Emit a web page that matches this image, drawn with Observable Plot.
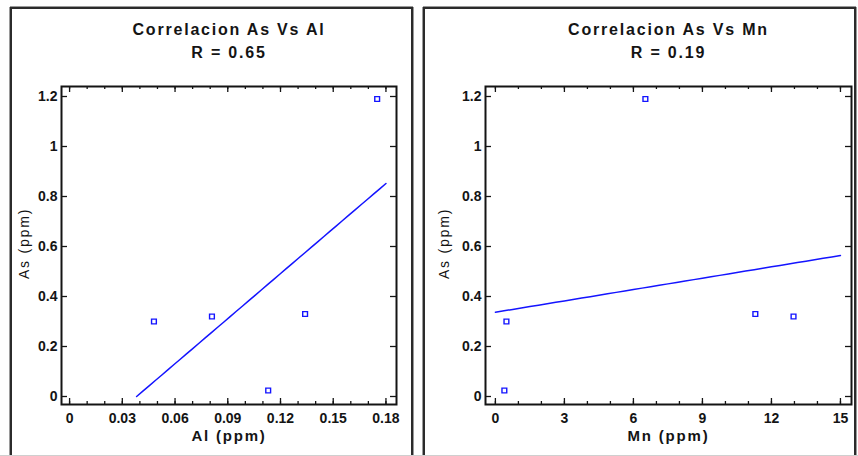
<!DOCTYPE html>
<html>
<head>
<meta charset="utf-8">
<script src="https://cdn.jsdelivr.net/npm/d3@7"></script>
<script src="https://cdn.jsdelivr.net/npm/@observablehq/plot@0.6"></script>
<style>
  html, body { margin: 0; padding: 0; background: #fff; }
  #page { position: relative; width: 858px; height: 456px; overflow: hidden; background: #fff; font-family: "Liberation Sans", Arial, sans-serif; }
  .panel { position: absolute; top: 0; }
  .frame { position: absolute; box-sizing: border-box; border: 2px solid #2b2b2b; border-bottom: none; box-shadow: 1px 0 0 #9a9a9a, -1px 0 0 #9a9a9a, 0 -1px 0 #9a9a9a; pointer-events: none; }
  .baseline { position: absolute; left: 0; width: 858px; top: 455px; height: 1px; background: #cfcfcf; }
</style>
</head>
<body>
<div id="page">
  <div class="panel" id="left" style="left:0px"></div>
  <div class="panel" id="right" style="left:420px"></div>
  <div class="frame" style="left:10px; top:7px; width:403px; height:460px"></div>
  <div class="frame" style="left:423px; top:7px; width:433px; height:460px"></div>
  <div class="baseline"></div>
</div>
<script>
// ---- data ----
const asValues = [0.30, 0.32, 0.024, 0.33, 1.19];
const alValues = [0.048, 0.081, 0.113, 0.134, 0.175];
const mnValues = [0.48, 12.96, 0.39, 11.3, 6.52];

const alTicks = [0, 0.03, 0.06, 0.09, 0.12, 0.15, 0.18];
const alTickLabels = ["0", "0.03", "0.06", "0.09", "0.12", "0.15", "0.18"];
const mnTicks = [0, 3, 6, 9, 12, 15];
const mnTickLabels = ["0", "3", "6", "9", "12", "15"];
const asTicks = [0, 0.2, 0.4, 0.6, 0.8, 1, 1.2];
const asTickLabels = ["0", "0.2", "0.4", "0.6", "0.8", "1", "1.2"];

const titlesLeft = ["Correlacion As Vs Al", "R = 0.65"];
const titlesRight = ["Correlacion As Vs Mn", "R = 0.19"];
const xLabelLeft = "Al (ppm)";
const xLabelRight = "Mn (ppm)";
const yLabel = "As (ppm)";

const blue = "#1414ff";
const ink = "#141414";

function fit(xs, ys) {
  const mx = d3.mean(xs), my = d3.mean(ys);
  let sxy = 0, sxx = 0;
  xs.forEach((x, i) => { sxy += (x - mx) * (ys[i] - my); sxx += (x - mx) ** 2; });
  const b = sxy / sxx, a = my - b * mx;
  return {a, b};
}

function panel({xs, ys, xDomain, xTicks, xTickLabels, xMinorStep, titles, xLabel, width, marginLeft, marginRight}) {
  const height = 456, marginTop = 86, marginBottom = 52;
  const fh = height - marginTop - marginBottom;
  const fw = width - marginLeft - marginRight;
  const pts = xs.map((x, i) => ({x, y: ys[i]}));
  const {a, b} = fit(xs, ys);
  const x0 = Math.max(xTicks[0], (asTicks[0] - a) / b);
  const x1 = xTicks[xTicks.length - 1];
  const line = d3.range(0, 41).map(i => { const x = x0 + (x1 - x0) * i / 40; return {x, y: a + b * x}; });
  const xMinor = d3.range(xTicks[0], x1 + xMinorStep / 2, xMinorStep).map(v => +v.toFixed(6));
  const fmtX = d => xTickLabels[xTicks.indexOf(d)] ?? "";
  const fmtY = d => asTickLabels[asTicks.indexOf(d)] ?? "";
  const tickStyle = {stroke: ink, strokeWidth: 1.3};
  const svg = Plot.plot({
    width, height, marginLeft, marginRight, marginTop, marginBottom,
    style: {background: "transparent", fontFamily: "'Liberation Sans', Arial, sans-serif", color: ink},
    x: {domain: xDomain, axis: null},
    y: {domain: [-0.032, 1.24], axis: null},
    marks: [
      // minor x ticks (bottom and top, inward)
      Plot.tickX(xMinor, {x: d => d, insetTop: fh - 3, ...tickStyle}),
      Plot.tickX(xMinor, {x: d => d, insetBottom: fh - 3, ...tickStyle}),
      // major x ticks
      Plot.tickX(xTicks, {x: d => d, insetTop: fh - 6, ...tickStyle}),
      Plot.tickX(xTicks, {x: d => d, insetBottom: fh - 6, ...tickStyle}),
      // major y ticks (left and right, inward)
      Plot.tickY(asTicks, {y: d => d, insetRight: fw - 6, ...tickStyle}),
      Plot.tickY(asTicks, {y: d => d, insetLeft: fw - 6, ...tickStyle}),
      Plot.frame({stroke: ink, strokeWidth: 2}),
      Plot.axisX(xTicks, {anchor: "bottom", tickSize: 0, tickPadding: 9, tickFormat: fmtX, fontSize: 14, fontWeight: "bold", fill: ink, label: null}),
      Plot.axisY(asTicks, {anchor: "left", tickSize: 0, tickPadding: 4, tickFormat: fmtY, fontSize: 14, fontWeight: "bold", fill: ink, label: null}),
      Plot.line(line, {x: "x", y: "y", stroke: blue, strokeWidth: 1.5}),
      Plot.dot(pts, {x: "x", y: "y", symbol: "square", r: 2.7, stroke: blue, strokeWidth: 1.4, fill: "none"}),
      Plot.text([titles[0]], {frameAnchor: "top", dy: -63, fontSize: 16, fontWeight: "bold", fill: ink}),
      Plot.text([titles[1]], {frameAnchor: "top", dy: -40, fontSize: 16, fontWeight: "bold", fill: ink}),
      Plot.text([xLabel], {frameAnchor: "bottom", dy: 36, fontSize: 15, fontWeight: "bold", fill: ink}),
      Plot.text([yLabel], {frameAnchor: "left", textAnchor: "middle", dx: -(marginLeft - 24), dy: -2, rotate: -90, fontSize: 14, fill: ink})
    ]
  });
  // letter spacing of the titles and axis labels, in mark order
  const spacing = ["1.8px", "1.8px", "1.8px", "1.8px"];
  d3.select(svg).selectAll('g[aria-label="text"]').each(function (_, i) {
    d3.select(this).selectAll("text").attr("letter-spacing", spacing[i]);
  });
  return svg;
}

document.getElementById("left").append(panel({
  xs: alValues, ys: asValues, xDomain: [-0.0046, 0.186], xTicks: alTicks, xTickLabels: alTickLabels,
  xMinorStep: 0.01, titles: titlesLeft, xLabel: xLabelLeft, width: 416, marginLeft: 61, marginRight: 20
}));
document.getElementById("right").append(panel({
  xs: mnValues, ys: asValues, xDomain: [-0.43, 15.48], xTicks: mnTicks, xTickLabels: mnTickLabels,
  xMinorStep: 1, titles: titlesRight, xLabel: xLabelRight, width: 438, marginLeft: 65, marginRight: 7
}));
</script>
</body>
</html>
